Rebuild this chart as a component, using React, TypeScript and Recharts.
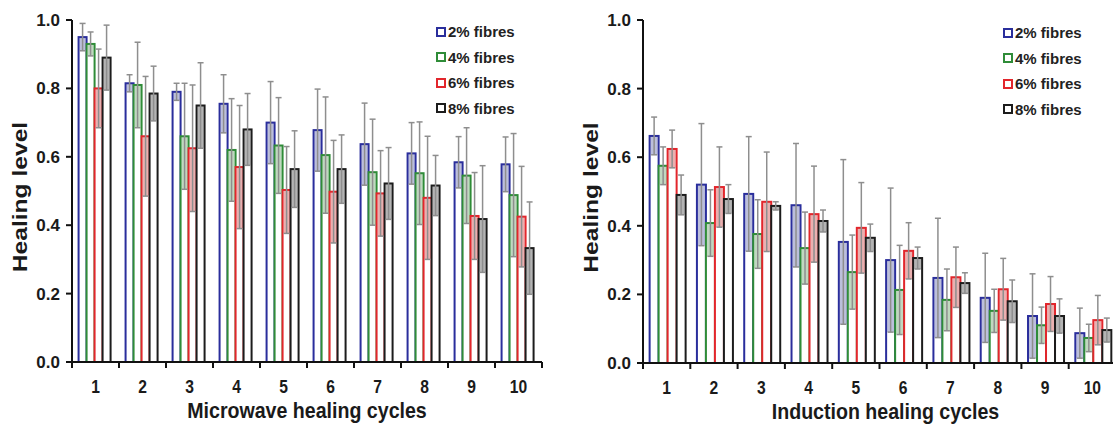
import React from 'react';
import { BarChart, Bar, XAxis, YAxis, ErrorBar, Legend, Label } from 'recharts';

const CYCLES = ['1', '2', '3', '4', '5', '6', '7', '8', '9', '10'];
const Y_TICKS = [0, 0.2, 0.4, 0.6, 0.8, 1.0];

// microwave healing, mean and error per fibre content
const MW_2 = [0.95, 0.815, 0.79, 0.755, 0.70, 0.678, 0.637, 0.61, 0.584, 0.578];
const MW_2_ERR = [0.04, 0.025, 0.025, 0.085, 0.12, 0.12, 0.12, 0.09, 0.075, 0.08];
const MW_4 = [0.93, 0.81, 0.66, 0.62, 0.633, 0.605, 0.555, 0.552, 0.545, 0.488];
const MW_4_ERR = [0.035, 0.125, 0.155, 0.15, 0.14, 0.17, 0.155, 0.15, 0.14, 0.18];
const MW_6 = [0.80, 0.66, 0.625, 0.57, 0.503, 0.498, 0.493, 0.48, 0.427, 0.425];
const MW_6_ERR = [0.115, 0.175, 0.185, 0.18, 0.127, 0.15, 0.125, 0.18, 0.127, 0.147];
const MW_8 = [0.89, 0.785, 0.75, 0.68, 0.564, 0.564, 0.522, 0.516, 0.418, 0.333];
const MW_8_ERR = [0.095, 0.08, 0.125, 0.105, 0.112, 0.10, 0.105, 0.088, 0.156, 0.135];

// induction healing
const IN_2 = [0.662, 0.52, 0.493, 0.46, 0.353, 0.30, 0.248, 0.19, 0.137, 0.087];
const IN_2_ERR = [0.055, 0.178, 0.167, 0.18, 0.24, 0.21, 0.174, 0.13, 0.123, 0.073];
const IN_4 = [0.575, 0.408, 0.376, 0.335, 0.265, 0.213, 0.184, 0.152, 0.11, 0.073];
const IN_4_ERR = [0.055, 0.097, 0.10, 0.105, 0.108, 0.13, 0.09, 0.063, 0.053, 0.04];
const IN_6 = [0.624, 0.513, 0.47, 0.434, 0.394, 0.327, 0.25, 0.215, 0.172, 0.125];
const IN_6_ERR = [0.055, 0.117, 0.145, 0.14, 0.132, 0.082, 0.088, 0.09, 0.08, 0.072];
const IN_8 = [0.49, 0.478, 0.458, 0.414, 0.365, 0.306, 0.233, 0.18, 0.137, 0.096];
const IN_8_ERR = [0.058, 0.042, 0.012, 0.032, 0.04, 0.032, 0.03, 0.062, 0.05, 0.035];

const SERIES = [
    { key: 'f2', name: '2% fibres', stroke: '#2a2e9c', shade: '#bcbfdb' },
    { key: 'f4', name: '4% fibres', stroke: '#2f8c38', shade: '#c0d8c0' },
    { key: 'f6', name: '6% fibres', stroke: '#e2262c', shade: '#eab0b0' },
    { key: 'f8', name: '8% fibres', stroke: '#1c1c1c', shade: '#b4b4b4' },
];

const FONT = '"Liberation Sans", Arial, sans-serif';
const ERR_COLOR = '#8e8e8e';

const buildRows = (vals: number[][], errs: number[][]) =>
    CYCLES.map((c, i) => {
        const row: Record<string, any> = { cycle: c };
        SERIES.forEach((s, j) => {
            row[s.key] = vals[j][i];
            row[s.key + 'Err'] = errs[j][i];
        });
        return row;
    });

const microwaveData = buildRows([MW_2, MW_4, MW_6, MW_8], [MW_2_ERR, MW_4_ERR, MW_6_ERR, MW_8_ERR]);
const inductionData = buildRows([IN_2, IN_4, IN_6, IN_8], [IN_2_ERR, IN_4_ERR, IN_6_ERR, IN_8_ERR]);

// hollow bar with the lower half of the error band shaded inside
const HollowBar = (props: any) => {
    const { x, y, width, height, payload, sKey, stroke, shade } = props;
    if (!height || height <= 0) return null;
    const v = payload[sKey];
    const e = payload[sKey + 'Err'];
    const shadeH = v > 0 ? Math.min(height, (height * e) / v) : 0;
    return (
        <g>
            <rect x={x} y={y} width={width} height={height} fill="#fff" />
            <rect x={x + 1} y={y} width={Math.max(0, width - 2)} height={shadeH} fill={shade} />
            <rect x={x} y={y} width={width} height={height} fill="none" stroke={stroke} strokeWidth={2} />
        </g>
    );
};

const CycleTick = (props: any) => {
    const { x, y, payload, index } = props;
    const half = payload && payload.offset ? payload.offset : 23.5;
    return (
        <g>
            <line x1={x - half} x2={x - half} y1={y} y2={y + 6} stroke="#111" strokeWidth={2} />
            {index === CYCLES.length - 1 && (
                <line x1={x + half} x2={x + half} y1={y} y2={y + 6} stroke="#111" strokeWidth={2} />
            )}
            <text
                transform={`translate(${x},${y + 31}) scale(0.92,1.08)`}
                textAnchor="middle"
                fontFamily={FONT}
                fontWeight="bold"
                fontSize={17}
                fill="#1a1a1a"
            >
                {payload.value}
            </text>
        </g>
    );
};

const YTitle = ({ viewBox }: any) => {
    const bx = viewBox.x + 15;
    const cy = viewBox.y + viewBox.height / 2 + 6;
    return (
        <text
            transform={`translate(${bx},${cy}) rotate(-90) scale(1.23,1)`}
            textAnchor="middle"
            fontFamily={FONT}
            fontWeight="bold"
            fontSize={20}
            fill="#1a1a1a"
        >
            Healing level
        </text>
    );
};

const makeXTitle = (text: string, shift: number) => ({ viewBox }: any) => {
    const cx = viewBox.x + viewBox.width / 2 + shift;
    const by = viewBox.y + 56;
    return (
        <text
            transform={`translate(${cx},${by}) scale(0.98,1.12)`}
            textAnchor="middle"
            fontFamily={FONT}
            fontWeight="bold"
            fontSize={20}
            fill="#1a1a1a"
        >
            {text}
        </text>
    );
};

const renderLegend = () => (
    <div style={{ fontFamily: FONT, fontWeight: 'bold', fontSize: 15, color: '#222' }}>
        {SERIES.map(s => (
            <div key={s.key} style={{ display: 'flex', alignItems: 'center', height: 25.5 }}>
                <span
                    style={{
                        display: 'inline-block',
                        width: 10,
                        height: 10,
                        boxSizing: 'border-box',
                        border: `2px solid ${s.stroke}`,
                        marginRight: 2,
                    }}
                />
                <span>{s.name}</span>
            </div>
        ))}
    </div>
);

interface PanelProps {
    data: Record<string, any>[];
    title: string;
    titleShift: number;
    left: number;
    margin: { top: number; right: number; bottom: number; left: number };
    legendPos: { top: number; left: number };
}

const Panel: React.FC<PanelProps> = ({ data, title, titleShift, left, margin, legendPos }) => (
    <div style={{ position: 'absolute', left, top: 0 }}>
        <BarChart width={560} height={432} data={data} margin={margin} barCategoryGap="14%" barGap={0}>
            <XAxis
                dataKey="cycle"
                height={30}
                axisLine={{ stroke: '#111', strokeWidth: 2 }}
                tickLine={false}
                tickSize={0}
                tickMargin={0}
                tick={<CycleTick />}
                interval={0}
            >
                <Label content={makeXTitle(title, titleShift)} />
            </XAxis>
            <YAxis
                width={60}
                domain={[0, 1]}
                ticks={Y_TICKS}
                interval={0}
                tickFormatter={(v: number) => v.toFixed(1)}
                axisLine={{ stroke: '#111', strokeWidth: 2 }}
                tickLine={{ stroke: '#111', strokeWidth: 2 }}
                tickSize={6}
                tickMargin={6}
                tick={{ fontFamily: FONT, fontWeight: 'bold', fontSize: 17, fill: '#1a1a1a' }}
            >
                <Label content={<YTitle />} />
            </YAxis>
            <Legend
                layout="vertical"
                align="center"
                verticalAlign="middle"
                content={renderLegend}
                wrapperStyle={{ top: legendPos.top, left: legendPos.left, width: 'auto' }}
            />
            {SERIES.map(s => (
                <Bar
                    key={s.key}
                    dataKey={s.key}
                    name={s.name}
                    fill="#fff"
                    stroke={s.stroke}
                    isAnimationActive={false}
                    shape={(p: any) => <HollowBar {...p} sKey={s.key} stroke={s.stroke} shade={s.shade} />}
                >
                    <ErrorBar
                        dataKey={s.key + 'Err'}
                        direction="y"
                        width={3}
                        stroke={ERR_COLOR}
                        strokeWidth={1.5}
                        isAnimationActive={false}
                    />
                </Bar>
            ))}
        </BarChart>
    </div>
);

export default function App() {
    return (
        <div style={{ position: 'absolute', left: 0, top: 0, width: 1113, height: 432, overflow: 'hidden', background: '#fff' }}>
            <Panel
                data={microwaveData}
                title="Microwave healing cycles"
                titleShift={0}
                left={0}
                margin={{ top: 20, right: 18, bottom: 40, left: 12 }}
                legendPos={{ top: 19, left: 436 }}
            />
            <Panel
                data={inductionData}
                title="Induction healing cycles"
                titleShift={6}
                left={560}
                margin={{ top: 20, right: 4, bottom: 39, left: 23 }}
                legendPos={{ top: 20, left: 443 }}
            />
        </div>
    );
}
